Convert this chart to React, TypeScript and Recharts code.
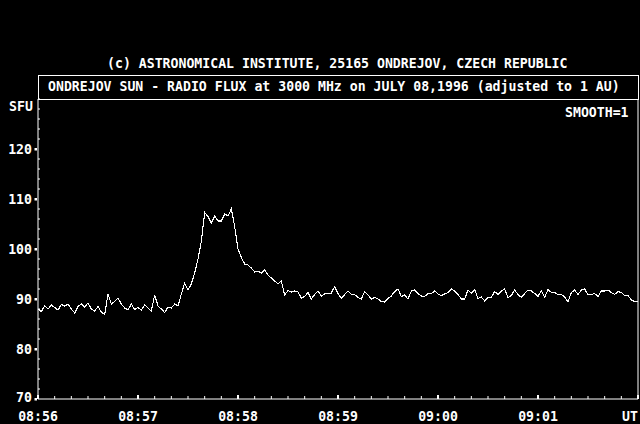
import { LineChart, Line, XAxis, YAxis, ReferenceLine } from "recharts";

// flux in SFU, one sample every 2 s, starting 08:56:00 UT
const flux0856 = [
  88.0, 87.5, 88.6, 88.0, 88.8, 88.3, 87.8, 88.9, 88.6, 89.0,
  88.0, 87.2, 88.5, 89.0, 88.4, 89.2, 88.0, 87.6, 88.5, 87.4,
  86.9, 91.0, 89.0, 89.5, 90.2, 89.0, 88.2, 87.8, 89.0, 87.9
];
const flux0857 = [
  88.3, 87.8, 88.8, 88.2, 87.6, 90.8, 88.6, 88.0, 87.3, 88.4,
  88.2, 89.0, 88.6, 91.0, 93.2, 91.8, 93.0, 95.2, 98.0, 101.5,
  107.3, 106.5, 105.2, 106.6, 105.6, 105.6, 107.0, 106.6, 108.0, 104.5
];
const flux0858 = [
  100.0, 98.3, 97.0, 96.8, 96.2, 95.4, 95.6, 95.2, 95.8, 94.8,
  94.2, 93.6, 93.0, 93.6, 90.8, 91.7, 91.4, 91.6, 91.4, 90.2,
  90.5, 91.3, 90.0, 90.9, 91.6, 90.6, 91.0, 91.1, 91.2, 92.5
];
const flux0859 = [
  91.1, 90.1, 90.9, 91.6, 90.9, 90.9, 90.3, 90.0, 91.5, 90.8,
  90.0, 90.3, 90.0, 89.5, 89.4, 90.1, 90.6, 91.5, 92.0, 90.5,
  90.8, 90.0, 91.6, 91.8, 91.1, 90.6, 90.5, 91.1, 91.1, 91.6
];
const flux0900 = [
  91.0, 90.7, 91.0, 91.3, 92.0, 91.6, 90.9, 90.0, 90.0, 91.8,
  91.1, 91.9, 90.1, 90.4, 89.6, 90.3, 90.3, 91.5, 90.9, 91.6,
  92.0, 90.3, 90.7, 91.8, 90.9, 90.3, 91.1, 91.8, 91.6, 91.1
];
const flux0901 = [
  90.5, 91.7, 90.3, 91.9, 91.3, 91.3, 90.9, 90.9, 90.4, 89.4,
  91.3, 91.8, 90.9, 91.8, 92.0, 90.8, 90.9, 91.1, 90.5, 91.6,
  91.6, 91.8, 91.3, 90.9, 91.5, 91.3, 90.7, 90.7, 89.8, 89.5
];
const flux0902 = [89.4];

const minuteLabels = ["08:56", "08:57", "08:58", "08:59", "09:00", "09:01", "UT"];
const yLabels = [70, 80, 90, 100, 110, 120];

const allFlux = [...flux0856, ...flux0857, ...flux0858, ...flux0859, ...flux0900, ...flux0901, ...flux0902];
const data = allFlux.map((v, i) => ({ t: i * 2, v }));

const xTicks = Array.from({ length: 37 }, (_, i) => i * 10);
const yTicks = Array.from({ length: 31 }, (_, i) => 70 + i * 2);

const FONT = '"DejaVu Sans Mono", "Liberation Mono", monospace';
const W = "#ffffff";

const txt = {
  fontFamily: FONT,
  fontSize: 13.2,
  fontWeight: "bold" as const,
  color: W,
  whiteSpace: "pre" as const,
  lineHeight: "16px",
  position: "absolute" as const
};

function BottomTick(props: any) {
  const { x, y, payload } = props;
  const t = payload.value;
  if (t % 60 !== 0) {
    return <rect x={x - 0.5} y={y - 3} width={1} height={3} fill={W} />;
  }
  const label = minuteLabels[t / 60];
  const last = t === 360;
  return (
    <g>
      <rect x={x - 1} y={y - 4} width={2} height={4} fill={W} />
      <text
        x={last ? 638 : x}
        y={y + 17}
        textAnchor={last ? "end" : "middle"}
        dominantBaseline="central"
        fill={W}
        style={{ fontFamily: FONT, fontSize: 13.2, fontWeight: "bold" }}
      >
        {label}
      </text>
    </g>
  );
}

function TopTick(props: any) {
  const { x, y } = props;
  return <rect x={x - 0.5} y={y} width={1} height={2} fill={W} />;
}

function LeftTick(props: any) {
  const { x, y, payload } = props;
  const v = payload.value;
  if (!yLabels.includes(v)) {
    return <rect x={x} y={y - 0.5} width={2} height={1} fill={W} />;
  }
  return (
    <g>
      <rect x={x - 3.5} y={y - 1} width={2.5} height={2.5} fill={W} />
      <text
        x={x - 6}
        y={v === 70 ? y - 2 : y}
        textAnchor="end"
        dominantBaseline="central"
        fill={W}
        style={{ fontFamily: FONT, fontSize: 13.2, fontWeight: "bold" }}
      >
        {v}
      </text>
    </g>
  );
}

export default function App() {
  return (
    <div style={{ position: "fixed", left: 0, top: 0, width: 640, height: 424, background: "#000", overflow: "hidden" }}>
      <div style={{ ...txt, left: 107, top: 56 }}>(c) ASTRONOMICAL INSTITUTE, 25165 ONDREJOV, CZECH REPUBLIC</div>
      <div style={{ position: "absolute", left: 38, top: 75, width: 601, height: 25, border: "1px solid #fff", boxSizing: "border-box" }} />
      <div style={{ ...txt, left: 48, top: 79 }}>ONDREJOV SUN - RADIO FLUX at 3000 MHz on JULY 08,1996 (adjusted to 1 AU)</div>
      <div style={{ ...txt, left: 9, top: 99 }}>SFU</div>
      <div style={{ ...txt, left: 565, top: 105 }}>SMOOTH=1</div>
      <div style={{ position: "absolute", left: 0, top: 0 }}>
        <LineChart width={640} height={424} data={data} margin={{ top: 99, right: 2, bottom: 0, left: 0 }}>
          <XAxis
            dataKey="t"
            type="number"
            domain={[0, 360]}
            ticks={xTicks}
            interval={0}
            height={25}
            stroke={W}
            tickLine={false}
            tickSize={0}
            tickMargin={0}
            tick={<BottomTick />}
          />
          <XAxis
            xAxisId="top"
            dataKey="t"
            type="number"
            orientation="top"
            domain={[0, 360]}
            ticks={xTicks}
            interval={0}
            height={0}
            stroke={W}
            tickLine={false}
            tickSize={0}
            tickMargin={0}
            tick={<TopTick />}
          />
          <YAxis
            type="number"
            domain={[70, 130]}
            ticks={yTicks}
            interval={0}
            width={38}
            stroke={W}
            tickLine={false}
            tickSize={0}
            tickMargin={0}
            tick={<LeftTick />}
          />
          <ReferenceLine x={360} stroke={W} ifOverflow="visible" />
          <Line
            type="linear"
            dataKey="v"
            stroke={W}
            strokeWidth={1.1}
            dot={false}
            shapeRendering="crispEdges"
            isAnimationActive={false}
          />
        </LineChart>
      </div>
    </div>
  );
}
